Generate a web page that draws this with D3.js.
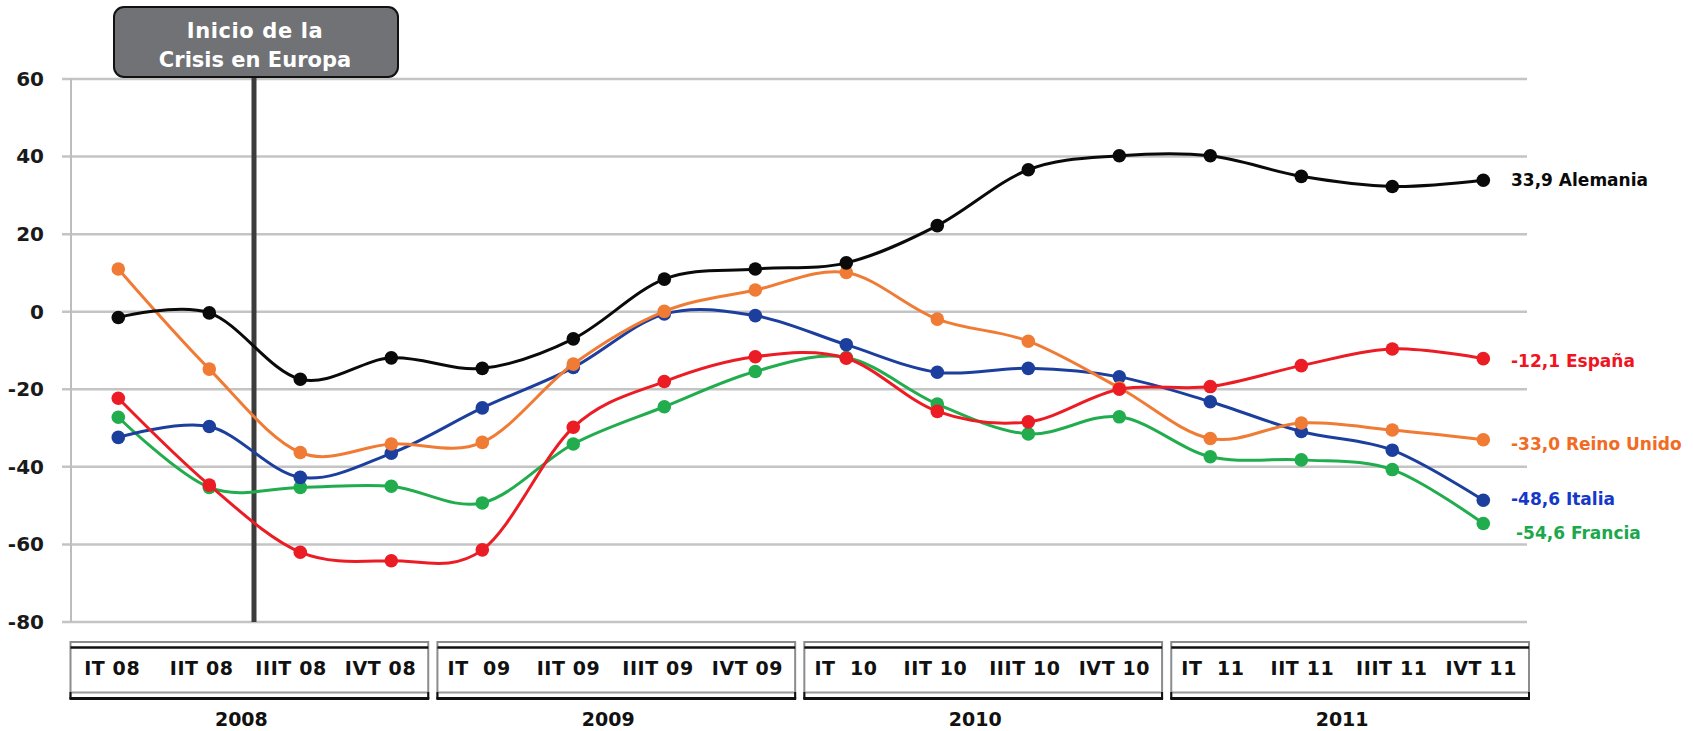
<!DOCTYPE html>
<html>
<head>
<meta charset="utf-8">
<script src="https://cdn.jsdelivr.net/npm/d3@7"></script>
<style>
  html, body { margin: 0; padding: 0; background: #fff; }
  svg { display: block; }
  text { font-family: "DejaVu Sans", Verdana, sans-serif; font-weight: bold; }
</style>
</head>
<body>
<svg id="chart" width="1693" height="731"></svg>
<script>
// ---- data ----
const quarters = ["IT 08","IIT 08","IIIT 08","IVT 08",
                  "IT  09","IIT 09","IIIT 09","IVT 09",
                  "IT  10","IIT 10","IIIT 10","IVT 10",
                  "IT  11","IIT 11","IIIT 11","IVT 11"];
const years = ["2008","2009","2010","2011"];
const yTicks = [60, 40, 20, 0, -20, -40, -60, -80];

const alemania   = [-1.5, -0.3, -17.4, -11.9, -14.6, -7.0, 8.4, 11.0, 12.6, 22.2, 36.6, 40.2, 40.2, 34.9, 32.3, 33.9];
const espana     = [-22.3, -44.7, -62.0, -64.2, -61.4, -29.8, -18.0, -11.6, -12.0, -25.7, -28.4, -20.0, -19.3, -13.9, -9.6, -12.1];
const reinoUnido = [11.0, -14.8, -36.3, -34.1, -33.7, -13.5, 0.1, 5.6, 10.1, -1.9, -7.6, -19.6, -32.7, -28.7, -30.5, -33.0];
const italia     = [-32.4, -29.6, -42.7, -36.5, -24.8, -14.4, -0.6, -1.0, -8.5, -15.6, -14.6, -16.8, -23.2, -30.9, -35.7, -48.6];
const francia    = [-27.2, -45.3, -45.3, -45.0, -49.3, -34.1, -24.5, -15.4, -11.8, -23.8, -31.5, -27.1, -37.4, -38.2, -40.7, -54.6];

const seriesNames  = ["Francia", "Italia", "Reino Unido", "España", "Alemania"];
const seriesValues = [francia, italia, reinoUnido, espana, alemania];
const endLabels    = ["-54,6 Francia", "-48,6 Italia", "-33,0 Reino Unido", "-12,1 España", "33,9 Alemania"];

const annotationLines = ["Inicio de la", "Crisis en Europa"];

// ---- styles ----
const lineColors  = ["#21ad4d", "#1c3f9e", "#f07b35", "#ec1c24", "#0a0a0a"];
const labelColors = ["#1aa84a", "#1438c8", "#f26b22", "#f0141e", "#0a0a0a"];
const labelDy     = [9, -1, 4, 2, 0];
const labelDx     = [5, 0, 0, 0, 0];

const svg = d3.select("#chart");

const x = d3.scalePoint().domain(quarters).range([118.3, 1483.3]);
const y = d3.scaleLinear().domain([-80, 60]).range([622, 79]);

// gridlines
svg.append("g")
  .selectAll("line").data(yTicks).join("line")
  .attr("x1", 62).attr("x2", 1527)
  .attr("y1", d => y(d)).attr("y2", d => y(d))
  .attr("stroke", "#c4c4c4").attr("stroke-width", 2.5);

// y axis line
svg.append("line")
  .attr("x1", 71).attr("x2", 71).attr("y1", y(60)).attr("y2", y(-80))
  .attr("stroke", "#bdbdbd").attr("stroke-width", 2);

// y tick labels
const yAxis = d3.axisLeft(y).tickValues(yTicks).tickSize(0).tickPadding(0)
  .tickFormat(d => String(d));
const gy = svg.append("g").attr("transform", "translate(44,0)").call(yAxis);
gy.select(".domain").remove();
gy.selectAll("text")
  .attr("font-size", 20).attr("fill", "#1a1a1a")
  .style("font-family", '"DejaVu Sans", Verdana, sans-serif').style("font-weight", "bold");

// crisis vertical line
svg.append("line")
  .attr("x1", 254).attr("x2", 254).attr("y1", 76).attr("y2", y(-80))
  .attr("stroke", "#3c3c3c").attr("stroke-width", 5);

// annotation box
const ann = svg.append("g");
ann.append("rect")
  .attr("x", 114).attr("y", 7).attr("width", 284).attr("height", 70)
  .attr("rx", 10).attr("ry", 10)
  .attr("fill", "#717275").attr("stroke", "#111").attr("stroke-width", 2);
ann.selectAll("text").data(annotationLines).join("text")
  .attr("x", 255).attr("y", (d, i) => 37.5 + i * 29)
  .attr("text-anchor", "middle").attr("font-size", 21).attr("fill", "#fff")
  .attr("letter-spacing", (d, i) => i === 0 ? 0.6 : 0)
  .text(d => d);

// lines
const line = d3.line()
  .x((d, i) => x(quarters[i]))
  .y(d => y(d))
  .curve(d3.curveCardinal.tension(0));

const sg = svg.append("g").selectAll("g").data(seriesValues).join("g");
sg.append("path")
  .attr("d", d => line(d))
  .attr("fill", "none")
  .attr("stroke", (d, i) => lineColors[i])
  .attr("stroke-width", 3);
sg.each(function(vals, si) {
  d3.select(this).selectAll("circle").data(vals).join("circle")
    .attr("cx", (d, i) => x(quarters[i]))
    .attr("cy", d => y(d))
    .attr("r", 6.8)
    .attr("fill", lineColors[si]);
});

// end labels
svg.append("g").selectAll("text").data(seriesValues).join("text")
  .attr("x", (d, i) => 1511 + labelDx[i])
  .attr("y", (d, i) => y(d[d.length - 1]) + labelDy[i])
  .attr("dy", "0.36em")
  .attr("font-size", 17)
  .attr("fill", (d, i) => labelColors[i])
  .text((d, i) => endLabels[i]);

// category boxes
const band = d3.scaleBand().domain(years).range([70.5, 1529]).paddingInner(0.025).paddingOuter(0);
const bw = band.bandwidth();
const boxes = svg.append("g").selectAll("g").data(years).join("g")
  .attr("transform", d => `translate(${band(d)},0)`);
boxes.append("rect")
  .attr("x", 0).attr("y", 642).attr("width", bw).attr("height", 56)
  .attr("fill", "#fff").attr("stroke", "#8c8c8c").attr("stroke-width", 2);
boxes.append("line")
  .attr("x1", 0).attr("x2", bw).attr("y1", 647.5).attr("y2", 647.5)
  .attr("stroke", "#111").attr("stroke-width", 2.5);
boxes.append("line")
  .attr("x1", 0).attr("x2", bw).attr("y1", 692.5).attr("y2", 692.5)
  .attr("stroke", "#9a9a9a").attr("stroke-width", 2);
boxes.append("line")
  .attr("x1", -1).attr("x2", bw + 1).attr("y1", 698.5).attr("y2", 698.5)
  .attr("stroke", "#111").attr("stroke-width", 3);
boxes.append("line")
  .attr("x1", 0).attr("x2", 0).attr("y1", 692).attr("y2", 699)
  .attr("stroke", "#111").attr("stroke-width", 2);
boxes.append("line")
  .attr("x1", bw).attr("x2", bw).attr("y1", 692).attr("y2", 699)
  .attr("stroke", "#111").attr("stroke-width", 2);

boxes.each(function(yr, yi) {
  const qs = quarters.slice(yi * 4, yi * 4 + 4);
  d3.select(this).selectAll("text.q").data(qs).join("text")
    .attr("class", "q")
    .attr("x", (d, j) => (j + 0.5) * bw / 4 - 3)
    .attr("y", 675)
    .attr("text-anchor", "middle")
    .attr("font-size", 19)
    .attr("letter-spacing", 0.6)
    .attr("fill", "#111")
    .style("white-space", "pre")
    .text(d => d);
});
boxes.append("text")
  .attr("x", bw / 2 - 8).attr("y", 726)
  .attr("text-anchor", "middle").attr("font-size", 19).attr("fill", "#111")
  .text(d => d);
</script>
</body>
</html>
